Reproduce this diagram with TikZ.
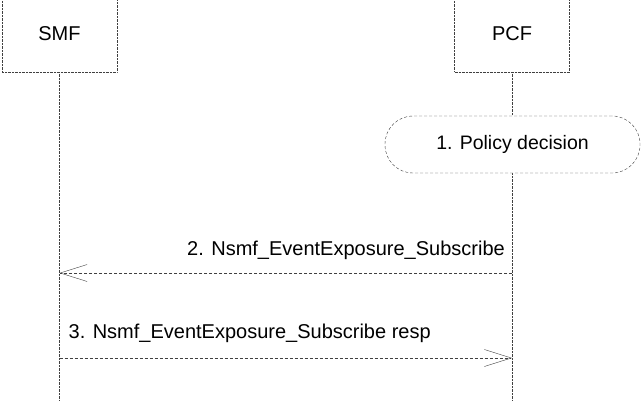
\documentclass[tikz,border=0pt]{standalone}
\usepackage{fontspec}
\setmainfont{Liberation Sans}
\usetikzlibrary{arrows.meta, positioning, calc}

\begin{document}
\begin{tikzpicture}[x=1pt, y=-1pt,
    actor/.style={draw=black!75, densely dotted, minimum width=115pt,
                  minimum height=76pt, inner sep=0pt,
                  font=\fontsize{20}{24}\selectfont},
    life/.style={draw=black!75, densely dotted},
    act/.style={draw=black!75, densely dashed, fill=white, rounded corners=28pt,
                minimum width=255pt, minimum height=57pt, inner sep=0pt,
                font=\fontsize{19.5}{23}\selectfont},
    msg/.style={draw=black!75, densely dashed,
                -{Straight Barb[length=27pt, width=17pt]}},
    lbl/.style={inner sep=0pt, font=\fontsize{20}{24}\selectfont},
]
\useasboundingbox (0,0) rectangle (642,401);
% --- participants ------------------------------------------------------------
\node[actor] (smf) at (59.5,34) {SMF};
\node[actor] (pcf) at (512,34) {PCF};
\coordinate (smfend) at (smf |- 0,405);
\coordinate (pcfend) at (pcf |- 0,405);
\draw[life] (smf) -- (smfend);
\draw[life] (pcf) -- (pcfend);
% --- 1. local action ---------------------------------------------------------
\node[act] (pol) at (512.5,144.5) {1. Policy decision};
% --- messages ----------------------------------------------------------------
\coordinate (m2a) at (pcf |- 0,273);
\coordinate (m2b) at (smf |- 0,273);
\draw[msg] (m2a) -- (m2b);
\node[lbl, anchor=east] (l2) at ($(m2a)+(-7,-23)$) {2. Nsmf\_EventExposure\_Subscribe};
\coordinate (m3a) at (smf |- 0,358);
\coordinate (m3b) at (pcf |- 0,358);
\draw[msg] (m3a) -- (m3b);
\node[lbl, anchor=west] (l3) at ($(m3a)+(9,-25)$) {3. Nsmf\_EventExposure\_Subscribe resp};
\end{tikzpicture}
\end{document}
